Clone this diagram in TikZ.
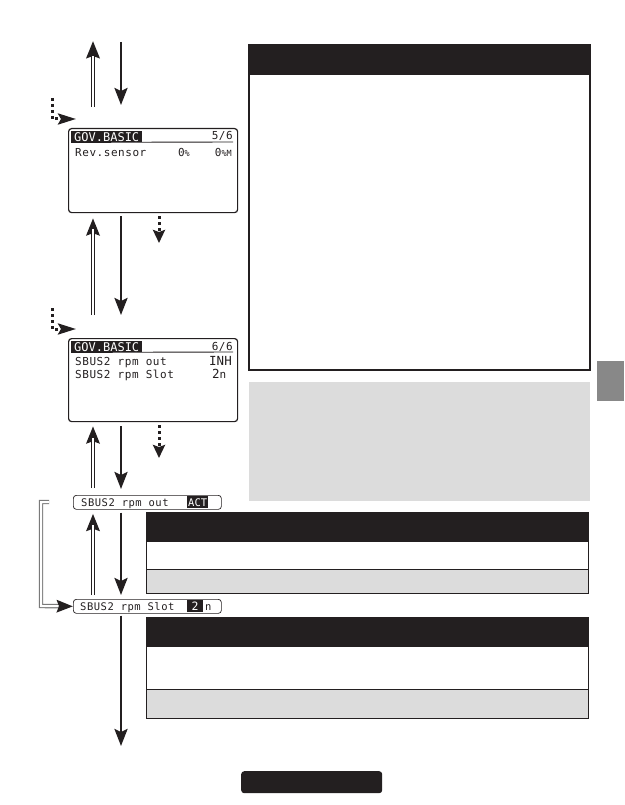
\documentclass[tikz,border=0pt]{standalone}
\usepackage{fontspec}
\newfontfamily\lcdfont{DejaVu Sans Mono}
\newfontfamily\lcdwide[LetterSpace=5]{DejaVu Sans Mono}
\usetikzlibrary{arrows.meta}
\definecolor{ink}{HTML}{231F20}
\definecolor{panelgray}{HTML}{DCDCDC}
\definecolor{tabgray}{HTML}{888888}
\definecolor{linkgray}{HTML}{7A7A7A}
\newcommand{\lcdbody}{\fontsize{11}{12}\lcdwide}
\newcommand{\lcdtitle}{\fontsize{12}{12}\lcdfont}
\newcommand{\lcdfield}{\fontsize{10.5}{11}\lcdwide}
\tikzset{
  screen/.style={draw=ink, line width=1.2pt, rounded corners=3pt, anchor=north west, inner sep=0pt, minimum width=169pt, minimum height=84pt},
  field/.style={draw=ink, line width=0.7pt, rounded corners=3pt, anchor=north west, inner sep=0pt, minimum width=148pt, minimum height=14pt},
  titlebox/.style={fill=ink, text=white, inner sep=0.6pt, anchor=north west, font=\lcdtitle},
  lcdtext/.style={anchor=base west, inner sep=0pt, font=\lcdbody, text=ink},
  downarr/.style={draw=ink, line width=2.6pt, -{Stealth[length=17pt,width=13pt,inset=3pt]}},
  uparr/.style={draw=ink, line width=4pt, -{Stealth[length=17pt,width=13pt,inset=2pt]},
     postaction={draw=white, line width=1.8pt, -, shorten >=15.5pt}},
  linkarr/.style={draw=linkgray, line width=4.4pt, -{Stealth[length=16pt,width=12pt,inset=2pt,color=ink]},
     postaction={draw=white, line width=2pt, -, shorten >=14.5pt}},
  dotarr/.style={draw=ink, line width=3pt, dash pattern=on 3pt off 3pt, -{Stealth[length=13pt,width=12pt,inset=2pt]}},
  dotarrh/.style={draw=ink, line width=3pt, dash pattern=on 3pt off 3pt, -{Stealth[length=18pt,width=11pt,inset=3pt]}},
}
\begin{document}
\begin{tikzpicture}[x=1pt,y=-1pt]
\useasboundingbox (0,0) rectangle (624,805);

% column coordinates
\coordinate (upx) at (93,0);
\coordinate (dnx) at (121,0);
\coordinate (dotx) at (159,0);

% ---------- right panels ----------
\node[draw=ink, line width=1.2pt, anchor=north west, inner sep=0pt, minimum width=341pt, minimum height=325pt] (info) at (249,45) {};
\fill[ink] (249,45) rectangle (590,75);
\draw[ink, line width=1.2pt] (249,45) rectangle (590,370);

\node[fill=panelgray, anchor=north west, inner sep=0pt, minimum width=341pt, minimum height=119pt] (note) at (249,382) {};

\node[fill=tabgray, anchor=north west, inner sep=0pt, minimum width=27pt, minimum height=40pt] (tab) at (597,361) {};

% table 1
\fill[ink] (146,512) rectangle (588,542);
\fill[panelgray] (146,569) rectangle (588,593);
\draw[ink, line width=0.9pt] (146,569) -- (588,569);
\draw[ink, line width=0.9pt] (146,512) rectangle (588,593);
% table 2
\fill[ink] (146,617) rectangle (588,647);
\fill[panelgray] (146,689) rectangle (588,718);
\draw[ink, line width=0.9pt] (146,689) -- (588,689);
\draw[ink, line width=0.9pt] (146,617) rectangle (588,718);

% bottom button
\node[fill=ink, rounded corners=3pt, anchor=north west, inner sep=0pt, minimum width=141pt, minimum height=22pt] (btn) at (241,771) {};

% ---------- screen 1 ----------
\node[screen] (s1) at (68,128) {};
\node[titlebox, minimum width=71pt, minimum height=11pt] (t1) at (71,131) {GOV.BASIC};
\draw[ink, line width=0.9pt] (t1.south west) -- (233,142);
\node[anchor=base east, inner sep=0pt, font=\lcdbody, text=ink] (p1) at (233,140) {5/6};
\node[lcdtext] (r1a) at (75,157) {Rev.sensor};
\node[anchor=base east, inner sep=0pt, font=\lcdbody, text=ink] (r1b) at (190,157) {0{\fontsize{8.5}{8}\lcdfont\%}};
\node[anchor=base east, inner sep=0pt, font=\lcdbody, text=ink] (r1c) at (232,157) {0{\fontsize{8.5}{8}\lcdfont\%M}};

% ---------- screen 2 ----------
\node[screen, minimum height=83pt] (s2) at (68,338) {};
\node[titlebox, minimum width=71pt, minimum height=11pt] (t2) at (71,341) {GOV.BASIC};
\draw[ink, line width=0.9pt] (t2.south west) -- (233,352);
\node[anchor=base east, inner sep=0pt, font=\lcdbody, text=ink] (p2) at (233,350) {6/6};
\node[lcdtext] (r2a) at (75,365) {SBUS2 rpm out};
\node[lcdtext, font=\fontsize{12.5}{13}\lcdfont] (r2b) at (209,365) {INH};
\node[lcdtext] (r3a) at (75,378) {SBUS2 rpm Slot};
\node[lcdtext, font=\fontsize{12.5}{13}\lcdfont] (r3b) at (212,378) {2{\lcdbody n}};

% ---------- field boxes ----------
\node[field] (f1) at (73,495) {};
\node[lcdtext, font=\lcdfield] (f1t) at (81,506) {SBUS2 rpm out};
\node[fill=ink, text=white, inner sep=0.5pt, anchor=north west, minimum width=21pt, minimum height=12pt, font=\fontsize{10.5}{11}\lcdfont] (f1v) at (187,496) {ACT};

\node[field] (f2) at (73,599) {};
\node[lcdtext, font=\lcdfield] (f2t) at (80,610) {SBUS2 rpm Slot};
\node[fill=ink, text=white, inner sep=0.5pt, anchor=north west, minimum width=16pt, minimum height=12pt, font=\fontsize{11.5}{12}\lcdfont] (f2v) at (187,600) {\hfill2};
\node[lcdtext, font=\lcdfield] (f2n) at (205,610) {n};

% ---------- free-end coordinates ----------
\coordinate (topup) at (93,41);
\coordinate (topdn) at (121,42);
\coordinate (d1end) at (159,243);
\coordinate (d2end) at (159,458);
\coordinate (l1s) at (52,98);
\coordinate (l1e) at (76,119);
\coordinate (l2s) at (52,308);
\coordinate (l2e) at (76,329);
\coordinate (bottom) at (121,746);
\coordinate (linkstart) at (49,502);

% ---------- connectors ----------
% top
\draw[uparr, shorten <=21pt] (s1.north -| upx) -- (topup);
\draw[downarr, shorten >=23pt] (topdn) -- (s1.north -| dnx);
\draw[dotarrh] (l1s) |- (l1e);

% screen1 -> screen2
\draw[downarr, shorten <=3pt, shorten >=23pt] (s1.south -| dnx) -- (s2.north -| dnx);
\draw[uparr, shorten <=23pt, shorten >=5pt] (s2.north -| upx) -- (s1.south -| upx);
\draw[dotarr, shorten <=3pt] (s1.south -| dotx) -- (d1end);
\draw[dotarrh] (l2s) |- (l2e);

% screen2 -> field1
\draw[downarr, shorten <=4pt, shorten >=6pt] (s2.south -| dnx) -- (f1.north -| dnx);
\draw[uparr, shorten <=7pt, shorten >=4pt] (f1.north -| upx) -- (s2.south -| upx);
\draw[dotarr, shorten <=3pt] (s2.south -| dotx) -- (d2end);

% field1 -> field2
\draw[downarr, shorten <=3pt, shorten >=4pt] (f1.south -| dnx) -- (f2.north -| dnx);
\draw[uparr, shorten <=4pt, shorten >=4pt] (f2.north -| upx) -- (f1.south -| upx);

% bracket link field1 -> field2
\draw[linkarr] (linkstart) -- (41,502) -- (41,606) -- (f2.west);

% bottom
\draw[downarr, shorten <=2pt] (f2.south -| dnx) -- (bottom);
\end{tikzpicture}
\end{document}
